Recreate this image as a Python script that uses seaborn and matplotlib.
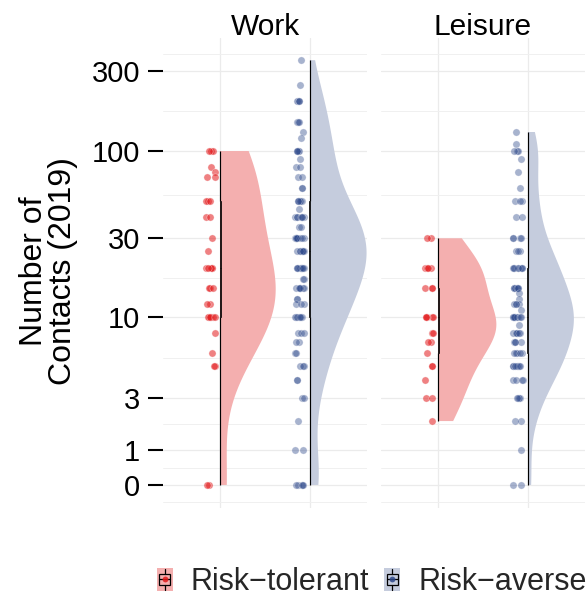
import numpy as np
import pandas as pd
import matplotlib
matplotlib.use("Agg")
import matplotlib.pyplot as plt
import seaborn as sns
from matplotlib.patches import Rectangle
from matplotlib.lines import Line2D
from matplotlib.legend_handler import HandlerBase

# Number of contacts per respondent in 2019, by setting and risk attitude
settings = ["Work", "Leisure"]
groups = ["Risk\u2212tolerant", "Risk\u2212averse"]

work_tolerant = [100, 100, 100, 80, 75, 70, 70, 50, 50, 50, 40, 40, 30, 25,
                 20, 20, 20, 20, 20, 15, 15, 15, 12, 12,
                 10, 10, 10, 10, 10, 10, 8, 6, 5, 5, 0, 0]
work_averse = [350, 250, 200, 200, 200, 200, 150, 150, 150, 130, 120,
               100, 100, 100, 100, 100, 90, 80, 80, 70, 70, 60, 60,
               50, 50, 50, 50, 50, 50, 45, 40, 40, 40, 40, 40, 40, 40, 35, 35,
               30, 30, 30, 30, 30, 30, 30, 30, 30, 30,
               25, 25, 25, 25, 25, 25, 25, 25,
               20, 20, 20, 20, 20, 20, 20, 20, 20, 20, 17, 17,
               15, 15, 15, 15, 15, 15, 15, 13, 13, 12, 12, 12,
               10, 10, 10, 10, 10, 10, 10, 8, 8, 8, 7, 7, 6, 6,
               5, 5, 5, 4, 4, 3, 3, 2, 1, 1, 0, 0, 0, 0, 0]
leisure_tolerant = [30, 30, 20, 20, 20, 20, 15, 15, 15, 10, 10, 10, 10, 10,
                    8, 8, 7, 7, 6, 5, 5, 4, 3, 3, 2]
leisure_averse = [130, 110, 100, 100, 100, 90, 75, 60, 50, 50, 50, 40, 40,
                  30, 30, 30, 30, 25, 25, 25,
                  20, 20, 20, 20, 20, 20, 20, 20,
                  15, 15, 15, 15, 15, 15, 15, 15, 14, 13, 12, 12, 12, 12, 11,
                  10, 10, 10, 10, 10, 10, 10, 10, 10, 10, 9,
                  8, 8, 8, 8, 8, 8, 7, 7, 7, 7, 6, 6, 6, 6, 6,
                  5, 5, 5, 5, 5, 5, 5, 4, 4, 4, 4, 3, 3, 3, 3,
                  2, 2, 1, 0, 0]

tick_values = [0, 1, 3, 10, 30, 100, 300]

values = {
    ("Work", groups[0]): work_tolerant,
    ("Work", groups[1]): work_averse,
    ("Leisure", groups[0]): leisure_tolerant,
    ("Leisure", groups[1]): leisure_averse,
}

# styling
point_colors = {groups[0]: "#E31A1C", groups[1]: "#2F4A8C"}
point_alpha = {groups[0]: 0.55, groups[1]: 0.42}
fill_colors = {groups[0]: "#F4AFAF", groups[1]: "#C5CCDD"}
half_width = {("Work", groups[0]): 0.62, ("Work", groups[1]): 0.64,
              ("Leisure", groups[0]): 0.65, ("Leisure", groups[1]): 0.52}
bw_adjust = {("Work", groups[0]): 1.25, ("Work", groups[1]): 1.0,
             ("Leisure", groups[0]): 1.0, ("Leisure", groups[1]): 1.0}


def pseudo_log(v):
    """Pseudo-log (base 10, sigma 1) transform used for the y axis."""
    return np.arcsinh(np.asarray(v, dtype=float) / 2.0) / np.log(10)


def nrd0(kde):
    """Silverman's rule of thumb bandwidth factor."""
    x = kde.dataset[0]
    sd = np.std(x, ddof=1)
    q75, q25 = np.percentile(x, [75, 25])
    lo = min(sd, (q75 - q25) / 1.34) if q75 > q25 else sd
    return 0.9 * lo * len(x) ** -0.2 / sd


class BoxKey(HandlerBase):
    """Legend key: filled square with a small boxplot glyph and a point."""

    def __init__(self, fill, point):
        super().__init__()
        self.fill = fill
        self.point = point

    def create_artists(self, legend, orig_handle, xdescent, ydescent,
                       width, height, fontsize, trans):
        x0, y0 = -xdescent, -ydescent
        cx, cy = x0 + width / 2, y0 + height / 2
        bw, bh = width * 0.66, height * 0.46
        arts = [Rectangle((x0, y0), width, height, facecolor=self.fill,
                          edgecolor="none", transform=trans)]
        arts.append(Rectangle((cx - bw / 2, cy - bh / 2), bw, bh, facecolor="none",
                              edgecolor="black", linewidth=0.9, transform=trans))
        for ya, yb in [(y0 + height * 0.06, cy - bh / 2), (cy + bh / 2, y0 + height * 0.94)]:
            arts.append(Line2D([cx, cx], [ya, yb], color="black", linewidth=0.9,
                               transform=trans))
        arts.append(Line2D([cx - bw / 2, cx + bw / 2], [cy, cy], color="black",
                           linewidth=0.9, transform=trans))
        arts.append(Line2D([cx], [cy], marker="o", markersize=4.2, color=self.point,
                           alpha=0.85, markeredgewidth=0, linestyle="none",
                           transform=trans))
        return arts


rows = []
for (s, g), vals in values.items():
    for v in vals:
        rows.append({"setting": s, "group": g, "contacts": v})
df = pd.DataFrame(rows)
df["y"] = pseudo_log(df["contacts"])

sns.set_theme(style="white")
plt.rcParams["font.family"] = ["Liberation Sans", "DejaVu Sans"]

fig = plt.figure(figsize=(5.87, 5.96), dpi=100)
W, H = 587, 596
ax_top, ax_bot = 38, 508
panels = {"Work": (163, 367), "Leisure": (381, 585)}

major_t = pseudo_log(tick_values)
minor_t = list((major_t[:-1] + major_t[1:]) / 2)
minor_t = [major_t[0] - (major_t[1] - major_t[0]) / 2] + minor_t + [2.581]

np.random.seed(3)
for s in settings:
    x0, x1 = panels[s]
    ax = fig.add_axes([x0 / W, 1 - ax_bot / H, (x1 - x0) / W, (ax_bot - ax_top) / H])
    for gi, g in enumerate(groups):
        sub = df[(df.setting == s) & (df.group == g)]
        pos = gi + 1.0
        n = len(sub)
        yv = sub["y"].to_numpy()
        # half violin on the right of the group position
        n0 = len(ax.collections)
        sns.violinplot(x=np.full(n, pos), y=yv, native_scale=True,
                       orient="x", cut=0, inner=None, width=2 * half_width[(s, g)],
                       color=fill_colors[g], saturation=1, linewidth=0,
                       bw_method=nrd0, bw_adjust=bw_adjust[(s, g)], gridsize=512,
                       density_norm="width", ax=ax)
        for c in ax.collections[n0:]:
            c.set_clip_path(Rectangle((pos, -10), 10, 20, transform=ax.transData))
            c.set_edgecolor("none")
        # slim boxplot on the group position, whiskers spanning the full range
        sns.boxplot(x=np.full(n, pos), y=yv, native_scale=True,
                    orient="x", width=0.02, showfliers=False, showcaps=False,
                    whis=(0, 100), color="black", linecolor="black", linewidth=0.5,
                    saturation=1, whiskerprops=dict(linewidth=0.85), ax=ax)
        # jittered raw points to the left
        sns.stripplot(x=np.full(n, pos - 0.11), y=yv, native_scale=True,
                      orient="x", jitter=0.055, size=5.2, color=point_colors[g],
                      alpha=point_alpha[g], edgecolor="white", linewidth=0.4,
                      ax=ax, zorder=3)

    ax.set_xlim(0.355, 2.645)
    ax.set_ylim(-0.138, 2.677)
    ax.set_xticks([1, 2])
    ax.set_xticklabels([])
    ax.set_yticks(major_t)
    ax.set_yticks(minor_t, minor=True)
    ax.set_xlabel("")
    ax.set_ylabel("")
    ax.grid(True, which="major", color="#EBEBEB", linewidth=0.9)
    ax.grid(True, which="minor", axis="y", color="#F0F0F0", linewidth=0.7)
    ax.set_axisbelow(True)
    for sp in ax.spines.values():
        sp.set_visible(False)
    ax.tick_params(axis="x", length=0, bottom=False)
    ax.tick_params(axis="y", which="minor", length=0, left=False)
    if s == "Work":
        ax.set_yticklabels([str(v) for v in tick_values])
        ax.tick_params(axis="y", which="major", left=True, length=11, width=1.5,
                       color="black", pad=5.5, labelsize=21, labelcolor="black")
    else:
        ax.set_yticklabels([])
        ax.tick_params(axis="y", which="major", left=False, length=0)
    ax.text(0.5, 1.0064, s, transform=ax.transAxes, ha="center", va="baseline",
            fontsize=21.5, color="black")

fig.text(48.5 / W, 1 - 271 / H, "Number of\nContacts (2019)", rotation=90,
         ha="center", va="center", multialignment="center", fontsize=23,
         color="black", linespacing=1.0)

keys = [Rectangle((0, 0), 1, 1) for _ in groups]
fig.legend(keys, groups,
           handler_map={keys[i]: BoxKey(fill_colors[g], point_colors[g])
                        for i, g in enumerate(groups)},
           loc="center", bbox_to_anchor=(0.633, 1 - 582 / H), ncol=2, frameon=False,
           fontsize=22, handlelength=0.53, handleheight=0.8, handletextpad=0.58,
           columnspacing=0.5, borderaxespad=0, borderpad=0)

fig.savefig("out.png", dpi=100)
